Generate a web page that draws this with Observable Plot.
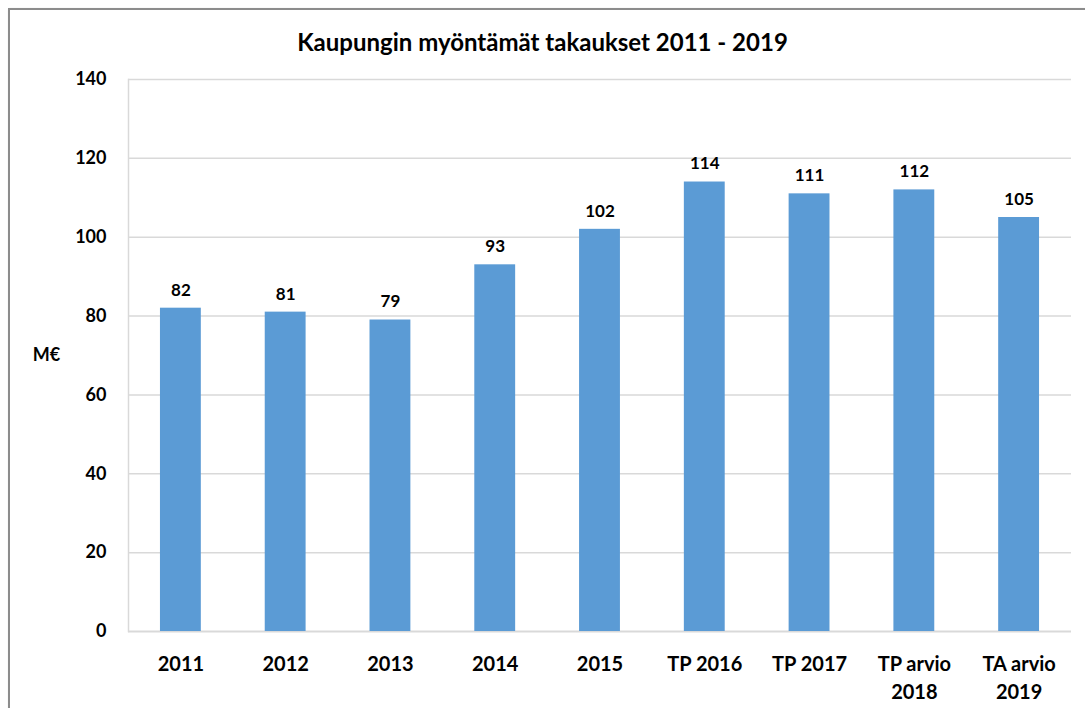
<!DOCTYPE html>
<html><head><meta charset="utf-8">
<script src="https://cdn.jsdelivr.net/npm/d3@7"></script>
<script src="https://cdn.jsdelivr.net/npm/@observablehq/plot@0.6"></script>
<style>
body{margin:0;background:#fff;width:1085px;height:708px;overflow:hidden;position:relative;font-family:Lato,"Open Sans",sans-serif;}
#frame{position:absolute;left:8px;top:8px;width:1200px;height:800px;border:2px solid #8c8c8c;box-sizing:border-box;box-shadow:1px 1px 2px #bbb;}
#title{position:absolute;left:0;top:27px;width:1085px;text-align:center;font-weight:bold;font-size:24px;color:#000;}
#chart{position:absolute;left:0;top:60px;}
</style></head>
<body>
<div id="frame"></div>
<div id="title">Kaupungin myöntämät takaukset 2011 - 2019</div>
<div id="chart"></div>
<script>
const categories = ["2011","2012","2013","2014","2015","TP 2016","TP 2017","TP arvio\n2018","TA arvio\n2019"];
const values = [82,81,79,93,102,114,111,112,105];
const yTicks = [0,20,40,60,80,100,120,140];
const yUnit = "M€";

const data = categories.map((c,i)=>({cat:c,value:values[i]}));
const font = "Lato, 'Open Sans', sans-serif";

const chart = Plot.plot({
  width:1085, height:648,
  marginTop:19, marginBottom:77, marginLeft:128, marginRight:14,
  style:{fontFamily:font, background:"transparent"},
  x:{domain:categories, paddingInner:0.61, paddingOuter:0.305, round:false, label:null},
  y:{domain:[0,140], ticks:yTicks, label:null},
  marks:[
    Plot.gridY(yTicks.filter(t=>t>0), {stroke:"#d9d9d9", strokeOpacity:1, strokeWidth:1.5}),
    Plot.frame({anchor:"left", stroke:"#d9d9d9", strokeWidth:1.5}),
    Plot.ruleY([0], {stroke:"#d9d9d9", strokeWidth:2}),
    Plot.barY(data, {x:"cat", y:"value", fill:"#5b9bd5"}),
    Plot.text(data, {x:"cat", y:"value", text:d=>String(d.value), dy:-18, fontSize:17, fontWeight:"bold", fill:"#000"}),
    Plot.axisY({ticks:yTicks, tickSize:0, tickPadding:22, fontSize:18, fontWeight:"bold", fill:"#000", label:null}),
    Plot.axisX({tickSize:0, tickPadding:20, fontSize:20, fontWeight:"bold", fill:"#000", lineHeight:1.4, label:null}),
    Plot.text([yUnit], {frameAnchor:"left", textAnchor:"middle", dx:-82, fontSize:18, fontWeight:"bold", fill:"#000"})
  ]
});
document.getElementById("chart").appendChild(chart);
</script>
</body></html>
